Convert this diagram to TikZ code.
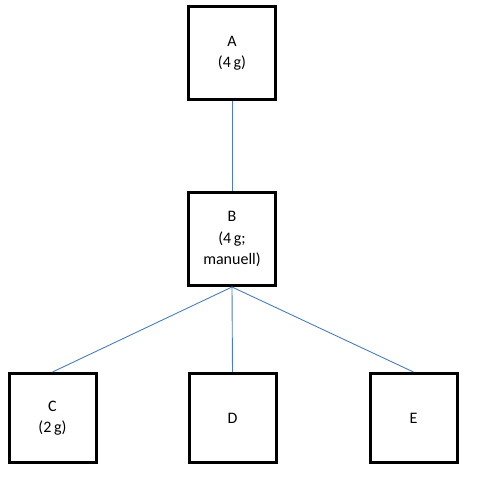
\documentclass[tikz,border=0pt]{standalone}
\usepackage{fontspec}
\setmainfont{Carlito}
\definecolor{linkblue}{HTML}{4A7EBB}
\begin{document}
\begin{tikzpicture}[x=1pt,y=-1pt,
  box/.style={draw=black,line width=3pt,minimum width=87pt,minimum height=93pt,inner sep=0pt,align=center,font=\fontsize{16}{21.5}\selectfont},
  link/.style={draw=linkblue,line width=0.9pt}]
\useasboundingbox (0,0) rectangle (483,491);
\node[box] (A) at (232,53) {A\\(4\,g)};
\node[box] (B) at (232,239) {B\\(4\,g;\\manuell)};
\node[box,minimum height=89pt] (C) at (52.5,418) {C\\(2\,g)};
\node[box,minimum height=89pt] (D) at (232.5,418) {D};
\node[box,minimum height=89pt] (E) at (413.5,418) {E};
\draw[link] (A.south) -- (B.north);
\draw[link] (B.south) -- (C.north);
\draw[link] (B.south) -- (D.north);
\draw[link] (B.south) -- (E.north);
\end{tikzpicture}
\end{document}
